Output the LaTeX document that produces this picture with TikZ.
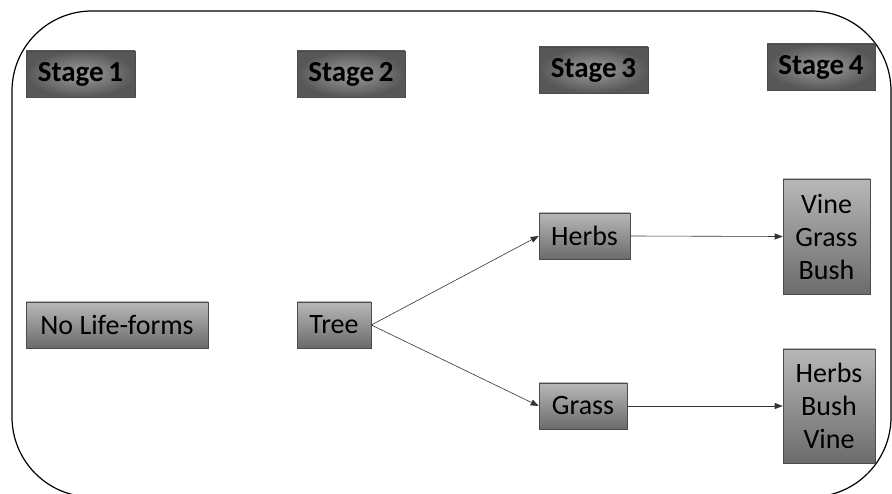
\documentclass[tikz,border=0pt]{standalone}
\usepackage{fontspec}
\setmainfont{Carlito}
\usetikzlibrary{arrows.meta}
\begin{document}
\begin{tikzpicture}[x=1pt,y=-1pt,
  stagebox/.style={draw=black!70, line width=0.6pt, inner color=black!38, outer color=black!66,
    minimum height=46pt, inner sep=0pt, font=\fontsize{29}{32}\selectfont\bfseries},
  plainbox/.style={draw=black!70, line width=0.6pt, top color=black!28, bottom color=black!58,
    minimum height=46pt, inner sep=0pt, align=center, font=\fontsize{28}{33}\selectfont},
  conn/.style={draw=black!80, line width=0.6pt, -{Triangle[length=8pt,width=6pt]}}]
\useasboundingbox (0,0) rectangle (892,494);
\fill[white] (0,0) rectangle (892,494);
\draw[line width=1.2pt, rounded corners=80pt] (12,11) rectangle (891,497);
\node[stagebox, minimum width=109pt] (s1) at (80.5,74) {Stage\,1};
\node[stagebox, minimum width=108pt] (s2) at (351,74) {Stage\,2};
\node[stagebox, minimum width=109pt] (s3) at (593.5,70) {Stage\,3};
\node[stagebox, minimum width=108pt] (s4) at (821,67) {Stage\,4};
\node[plainbox, minimum width=182pt] (nl) at (117,325) {No Life-forms};
\node[plainbox, minimum width=74pt] (tree) at (334,325) {Tree};
\node[plainbox, minimum width=91pt] (herbs) at (584.5,236) {Herbs};
\node[plainbox, minimum width=88pt] (grass) at (583,406) {Grass};
\node[plainbox, minimum width=87pt, minimum height=115pt] (vgb) at (826.5,236.5) {Vine\\Grass\\Bush};
\node[plainbox, minimum width=92pt, minimum height=114pt] (hbv) at (829,406) {Herbs\\Bush\\Vine};
\draw[conn] (tree.east) -- (herbs.west);
\draw[conn] (tree.east) -- (grass.west);
\draw[conn] (herbs.east) -- (vgb.west);
\draw[conn] (grass.east) -- (hbv.west);
\end{tikzpicture}
\end{document}
